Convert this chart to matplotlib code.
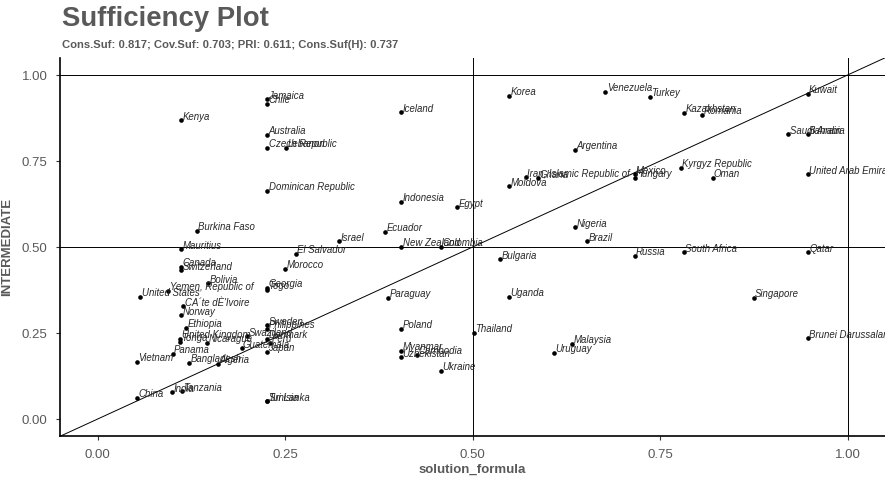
import matplotlib
matplotlib.use("Agg")
import matplotlib.pyplot as plt

plt.rcParams['font.family'] = ['Liberation Sans', 'DejaVu Sans']

# values
countries = [
    "Jamaica", "Chile", "Kenya", "Australia", "Czech Republic", "Lebanon",
    "Dominican Republic", "Iceland", "Korea", "Indonesia", "Egypt",
    "Iran, Islamic Republic of", "Ghana", "Moldova", "Venezuela", "Turkey",
    "Kazakhstan", "Romania", "Kuwait", "Saudi Arabia", "Bahrain", "Argentina",
    "Mexico", "Hungary", "Kyrgyz Republic", "Oman", "United Arab Emirates",
    "Burkina Faso", "Mauritius", "El Salvador", "Canada", "Switzerland",
    "Morocco", "Bolivia", "Yemen, Republic of", "United States", "Georgia",
    "Togo", "CA´te dÈ'Ivoire", "Norway", "Ethiopia", "United Kingdom",
    "Tonga", "Nicaragua", "Panama", "Vietnam", "Bangladesh", "Algeria",
    "China", "India", "Tanzania", "Sweden", "Philippines", "Swaziland",
    "Denmark", "Guatemala", "Peru", "Japan", "Sri Lanka", "Tunisia",
    "Israel", "Ecuador", "New Zealand", "Colombia", "Bulgaria", "Paraguay",
    "Uganda", "Nigeria", "Brazil", "Russia", "South Africa", "Qatar",
    "Singapore", "Poland", "Thailand", "Myanmar", "Uzbekistan", "Cambodia",
    "Ukraine", "Malaysia", "Uruguay", "Brunei Darussalam",
]
solution = [
    0.226, 0.226, 0.111, 0.226, 0.226, 0.251,
    0.226, 0.405, 0.549, 0.405, 0.479,
    0.571, 0.587, 0.549, 0.677, 0.736,
    0.782, 0.806, 0.947, 0.921, 0.947, 0.637,
    0.716, 0.716, 0.778, 0.820, 0.947,
    0.132, 0.111, 0.264, 0.111, 0.111,
    0.250, 0.147, 0.094, 0.057, 0.226,
    0.226, 0.114, 0.111, 0.118, 0.110,
    0.110, 0.146, 0.100, 0.052, 0.122, 0.160,
    0.052, 0.099, 0.112, 0.226, 0.226, 0.199,
    0.226, 0.192, 0.230, 0.226, 0.226, 0.226,
    0.322, 0.383, 0.405, 0.458, 0.537, 0.387,
    0.549, 0.637, 0.653, 0.716, 0.782, 0.947,
    0.875, 0.405, 0.502, 0.405, 0.405, 0.426,
    0.458, 0.633, 0.608, 0.947,
]
intermediate = [
    0.930, 0.916, 0.869, 0.826, 0.788, 0.788,
    0.663, 0.892, 0.939, 0.631, 0.616,
    0.703, 0.700, 0.677, 0.951, 0.936,
    0.890, 0.884, 0.945, 0.828, 0.828, 0.782,
    0.712, 0.701, 0.730, 0.701, 0.712,
    0.547, 0.494, 0.480, 0.442, 0.432,
    0.436, 0.395, 0.372, 0.355, 0.381,
    0.375, 0.328, 0.302, 0.265, 0.233,
    0.224, 0.221, 0.189, 0.166, 0.163, 0.160,
    0.061, 0.078, 0.081, 0.273, 0.262, 0.241,
    0.233, 0.206, 0.221, 0.195, 0.052, 0.052,
    0.517, 0.544, 0.500, 0.500, 0.465, 0.352,
    0.355, 0.558, 0.517, 0.474, 0.485, 0.485,
    0.352, 0.262, 0.250, 0.198, 0.180, 0.186,
    0.140, 0.218, 0.192, 0.235,
]
ticks = [0.0, 0.25, 0.5, 0.75, 1.0]
tick_labels = ["0.00", "0.25", "0.50", "0.75", "1.00"]

grey = "#595959"

fig = plt.figure(figsize=(8.85, 4.82), dpi=100)
ax = fig.add_axes([0.068, 0.095, 0.932, 0.785])

ax.set_xlim(-0.05, 1.05)
ax.set_ylim(-0.05, 1.05)

# reference lines
ax.plot([-0.05, 1.05], [-0.05, 1.05], color="black", lw=0.7, zorder=1)
for v in [0.5, 1.0]:
    ax.axvline(v, color="black", lw=0.7, zorder=1)
    ax.axhline(v, color="black", lw=0.7, zorder=1)

ax.scatter(solution, intermediate, s=11, color="black", zorder=3, linewidths=0)
for name, x, y in zip(countries, solution, intermediate):
    ax.annotate(name, (x, y), xytext=(1, 0.4), textcoords="offset points",
                fontsize=6.9, style="italic", color="#262626",
                ha="left", va="baseline", zorder=4, annotation_clip=False)

for side in ["top", "right"]:
    ax.spines[side].set_visible(False)
for side in ["left", "bottom"]:
    ax.spines[side].set_linewidth(1.2)
    ax.spines[side].set_color("black")

ax.set_xticks(ticks)
ax.set_xticklabels(tick_labels)
ax.set_yticks(ticks)
ax.set_yticklabels(tick_labels)
ax.tick_params(axis="both", length=3, width=0.8, color="#333333",
               labelsize=9.5, labelcolor=grey, pad=6)

ax.set_xlabel("solution_formula", fontsize=9.5, fontweight="bold", color=grey, labelpad=2)
ax.set_ylabel("INTERMEDIATE", fontsize=9.5, fontweight="bold", color=grey, labelpad=6)

fig.text(0.070, 0.933, "Sufficiency Plot", fontsize=19.8, fontweight="bold",
         color=grey, ha="left", va="bottom")
fig.text(0.070, 0.897, "Cons.Suf: 0.817; Cov.Suf: 0.703; PRI: 0.611; Cons.Suf(H): 0.737",
         fontsize=8.1, fontweight="bold", color=grey, ha="left", va="bottom")

fig.savefig("out.png", dpi=100)
